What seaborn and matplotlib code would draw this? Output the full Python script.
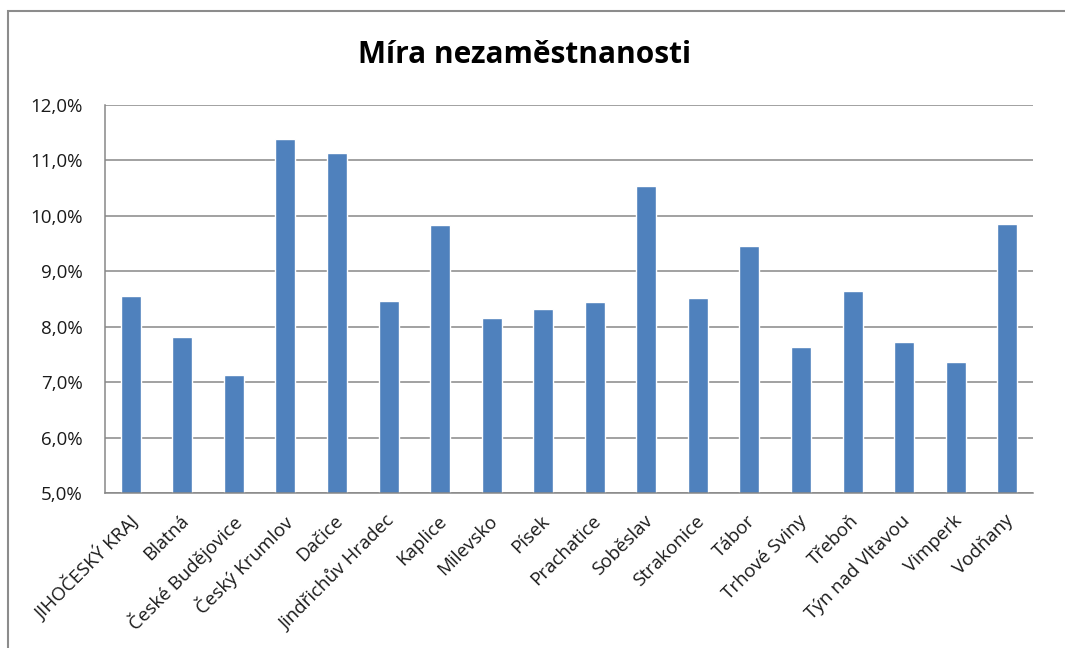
"""Míra nezaměstnanosti - sloupcový graf ve stylu Excelu."""
import matplotlib

matplotlib.use("Agg")
import matplotlib.pyplot as plt
import matplotlib.transforms as mtransforms
import numpy as np
import pandas as pd
import seaborn as sns
from matplotlib.patches import Rectangle
from matplotlib.ticker import FixedLocator, FuncFormatter

# data (v procentech)
obce = [
    "JIHOČESKÝ KRAJ", "Blatná", "České Budějovice", "Český Krumlov", "Dačice",
    "Jindřichův Hradec", "Kaplice", "Milevsko", "Písek", "Prachatice", "Soběslav",
    "Strakonice", "Tábor", "Trhové Sviny", "Třeboň", "Týn nad Vltavou", "Vimperk",
    "Vodňany",
]
mira = [
    8.56, 7.81, 7.12, 11.38, 11.14, 8.46, 9.84, 8.15, 8.32, 8.44, 10.53,
    8.51, 9.45, 7.64, 8.64, 7.72, 7.36, 9.86,
]
y_ticks = [5, 6, 7, 8, 9, 10, 11, 12]
titulek = "Míra nezaměstnanosti"

BAR_COLOR = "#4F81BD"
GRID_COLOR = "#878787"
FONT = ["Open Sans", "DejaVu Sans"]

sns.set_theme(style="white")
plt.rcParams["font.family"] = FONT

df = pd.DataFrame({"obec": obce, "mira": mira})

fig = plt.figure(figsize=(10.65, 6.48), dpi=100)
ax = fig.add_axes([105 / 1065, 1 - 493 / 648, (1033 - 105) / 1065, (493 - 105) / 648])

sns.barplot(data=df, x="obec", y="mira", color=BAR_COLOR, saturation=1, width=0.39, ax=ax)

ax.set_ylim(5, 12)
ax.set_xlim(-0.5, len(obce) - 0.5)
ax.yaxis.set_major_locator(FixedLocator(y_ticks))
ax.yaxis.set_major_formatter(FuncFormatter(lambda v, _: f"{v:.1f}%".replace(".", ",")))
ax.grid(axis="y", color=GRID_COLOR, linewidth=1.1)
ax.set_axisbelow(True)

for side in ["top", "right"]:
    ax.spines[side].set_visible(False)
for side in ["left", "bottom"]:
    ax.spines[side].set_color(GRID_COLOR)
    ax.spines[side].set_linewidth(1.1)

# popisky kategorií bez ticků, ticky na hranicích kategorií
ax.tick_params(axis="x", which="major", length=0, pad=12)
ax.set_xticks(np.arange(len(obce) + 1) - 0.5, minor=True)
ax.tick_params(axis="x", which="minor", length=6, width=1.1, color=GRID_COLOR, direction="out")
ax.tick_params(axis="y", length=7, width=1.1, color=GRID_COLOR, direction="out", labelsize=13.5,
               labelcolor="#1a1a1a", pad=9)
ax.set_xticks(range(len(obce)))
ax.set_xticklabels(obce, rotation=45, ha="right", rotation_mode="anchor", fontsize=13.5,
                   color="#1a1a1a")

# popisky trochu doleva, jako v Excelu
posun = mtransforms.ScaledTranslation(-3 / 100, -2 / 100, fig.dpi_scale_trans)
for lbl in ax.get_xticklabels():
    lbl.set_transform(lbl.get_transform() + posun)

ax.set_xlabel("")
ax.set_ylabel("")

fig.text(0.493, 1 - 55 / 648, titulek, ha="center", va="center", fontsize=21.5, fontweight="bold",
         color="black")

# rámeček grafu (oříznutý vpravo a dole)
fig.patches.append(Rectangle((8 / 1065, -0.1), 1.2, 1 - 11 / 648 + 0.1, transform=fig.transFigure,
                             fill=False, edgecolor="#8c8c8c", linewidth=1.5))

fig.savefig("out.png", dpi=100)
